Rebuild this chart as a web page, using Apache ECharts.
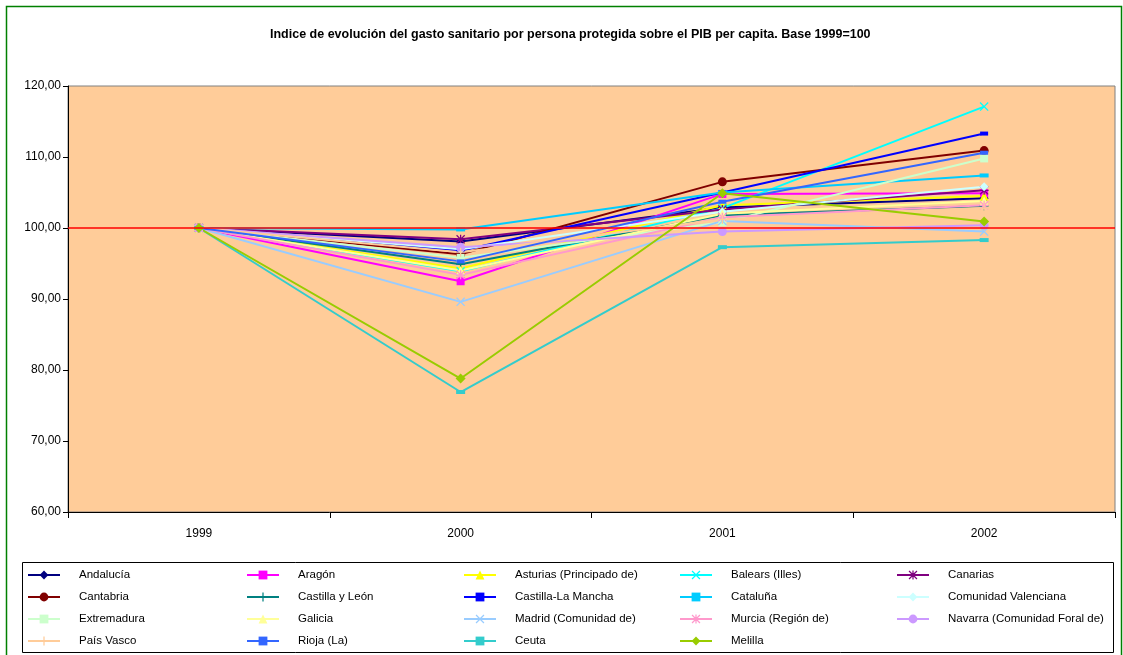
<!DOCTYPE html>
<html>
<head>
<meta charset="utf-8">
<script src="https://cdn.jsdelivr.net/npm/echarts@6/dist/echarts.min.js"></script>
<style>
html,body{margin:0;padding:0;background:#fff;}
#c{width:1123px;height:655px;}
</style>
</head>
<body>
<div id="c"></div>
<script>
const years = ['1999', '2000', '2001', '2002'];
const yTicks = [60, 70, 80, 90, 100, 110, 120];
const title = 'Indice de evolución del gasto sanitario por persona protegida sobre el PIB per capita. Base 1999=100';

const andalucia    = [100, 98.1, 102.9, 104.2];
const aragon       = [100, 92.5, 104.8, 104.9];
const asturias     = [100, 94.3, 103.2, 104.5];
const balears      = [100, 93.9, 102.8, 117.1];
const canarias     = [100, 98.4, 102.6, 105.3];
const cantabria    = [100, 96.3, 106.5, 110.9];
const castillaLeon = [100, 94.9, 101.8, 103.1];
const castillaLM   = [100, 96.8, 105.0, 113.3];
const cataluna     = [100, 99.8, 105.0, 107.4];
const valenciana   = [100, 97.0, 102.3, 105.8];
const extremadura  = [100, 95.8, 100.8, 109.8];
const galicia      = [100, 94.0, 102.0, 103.8];
const madrid       = [100, 89.6, 101.0, 99.5];
const murcia       = [100, 93.4, 101.5, 103.2];
const navarra      = [100, 97.3, 99.5, 100.4];
const paisVasco    = [100, 96.6, 101.2, 102.8];
const rioja        = [100, 95.3, 103.7, 110.6];
const ceuta        = [100, 76.9, 97.3, 98.3];
const melilla      = [100, 78.8, 104.9, 100.9];

const X = 'path://M1,0L5,4L9,0L10,1L6,5L10,9L9,10L5,6L1,10L0,9L4,5L0,1Z';
const PLUS = 'path://M4.3,0H5.7V4.3H10V5.7H5.7V10H4.3V5.7H0V4.3H4.3Z';
const STAR = 'path://M1,0L5,4L9,0L10,1L6,5L10,9L9,10L5,6L1,10L0,9L4,5L0,1Z M4.3,0H5.7V4.3H10V5.7H5.7V10H4.3V5.7H0V4.3H4.3Z';

const seriesDefs = [
  ['Andalucía', andalucia, '#000080', 'diamond', 9],
  ['Aragón', aragon, '#FF00FF', 'rect', 8],
  ['Asturias (Principado de)', asturias, '#FFFF00', 'triangle', 9],
  ['Balears (Illes)', balears, '#00FFFF', X, 9],
  ['Canarias', canarias, '#800080', STAR, 9],
  ['Cantabria', cantabria, '#800000', 'circle', 9],
  ['Castilla y León', castillaLeon, '#008080', PLUS, 9],
  ['Castilla-La Mancha', castillaLM, '#0000FF', 'rect', [8, 4]],
  ['Cataluña', cataluna, '#00CCFF', 'rect', [9, 4]],
  ['Comunidad Valenciana', valenciana, '#CCFFFF', 'diamond', 9],
  ['Extremadura', extremadura, '#CCFFCC', 'rect', 8],
  ['Galicia', galicia, '#FFFF99', 'triangle', 9],
  ['Madrid (Comunidad de)', madrid, '#99CCFF', X, 9],
  ['Murcia (Región de)', murcia, '#FF99CC', STAR, 9],
  ['Navarra (Comunidad Foral de)', navarra, '#CC99FF', 'circle', 9],
  ['País Vasco', paisVasco, '#FFCC99', PLUS, 9],
  ['Rioja (La)', rioja, '#3366FF', 'rect', [8, 4]],
  ['Ceuta', ceuta, '#33CCCC', 'rect', [9, 4]],
  ['Melilla', melilla, '#99CC00', 'diamond', 10]
];

const series = seriesDefs.map(function (d, i) {
  return {
    name: d[0], type: 'line', data: d[1],
    symbol: d[3], symbolSize: d[4], showAllSymbol: true,
    lineStyle: {color: d[2], width: 2},
    itemStyle: {color: d[2], borderWidth: 0},
    animation: false, z: 3,
    emphasis: {disabled: true}
  };
});
series.push({
  name: '_ref', type: 'line', data: [], silent: true, animation: false, z: 4,
  markLine: {
    silent: true, symbol: 'none', animation: false,
    label: {show: false},
    lineStyle: {color: '#FF0000', width: 1.5, type: 'solid'},
    data: [{yAxis: 100}]
  }
});

// legend columns (row-major order in 5 columns)
const names = seriesDefs.map(function (d) { return d[0]; });
const colLeft = [27, 246, 463, 679, 896];
const legends = colLeft.map(function (lx, c) {
  const items = [];
  for (let k = c; k < names.length; k += 5) items.push(names[k]);
  return {
    orient: 'vertical', left: lx, top: 568, height: 87, padding: 0,
    itemWidth: 32, itemHeight: 11, itemGap: 8,
    selectedMode: false,
    textStyle: {fontFamily: 'Liberation Sans', fontSize: 11.5, lineHeight: 14, color: '#000', padding: [0, 0, 0, 14]},
    data: items
  };
});

const chart = echarts.init(document.getElementById('c'), null, {renderer: 'canvas'});
chart.setOption({
  backgroundColor: '#fff',
  animation: false,
  title: {
    text: title, left: 265, top: 23,
    textStyle: {fontFamily: 'Liberation Sans', fontSize: 12.5, fontWeight: 'bold', color: '#000'}
  },
  legend: legends,
  grid: {
    left: 68, top: 86, width: 1047, height: 426,
    show: true, backgroundColor: '#FFCC99', borderColor: '#808080', borderWidth: 1
  },
  xAxis: {
    type: 'category', data: years, boundaryGap: true,
    axisLine: {lineStyle: {color: '#000', width: 1}},
    axisTick: {show: true, interval: 0, length: 6, lineStyle: {color: '#000'}},
    axisLabel: {fontFamily: 'Liberation Sans', fontSize: 12, color: '#000', margin: 16},
    splitLine: {show: false}
  },
  yAxis: {
    type: 'value', min: yTicks[0], max: yTicks[yTicks.length - 1], interval: 10,
    axisLine: {show: true, lineStyle: {color: '#000', width: 1}},
    axisTick: {show: true, length: 5, lineStyle: {color: '#000'}},
    axisLabel: {
      fontFamily: 'Liberation Sans', fontSize: 12, color: '#000', margin: 7,
      formatter: function (v) { return v.toFixed(2).replace('.', ','); }
    },
    splitLine: {show: false}
  },
  graphic: [
    {type: 'rect', shape: {x: 6.5, y: 6.5, width: 1115, height: 660}, style: {fill: 'none', stroke: '#008000', lineWidth: 1.5}, silent: true, z: 0},
    {type: 'rect', shape: {x: 22.5, y: 562.5, width: 1091, height: 90}, style: {fill: 'none', stroke: '#000', lineWidth: 1}, silent: true, z: 0}
  ],
  series: series
});
</script>
</body>
</html>
